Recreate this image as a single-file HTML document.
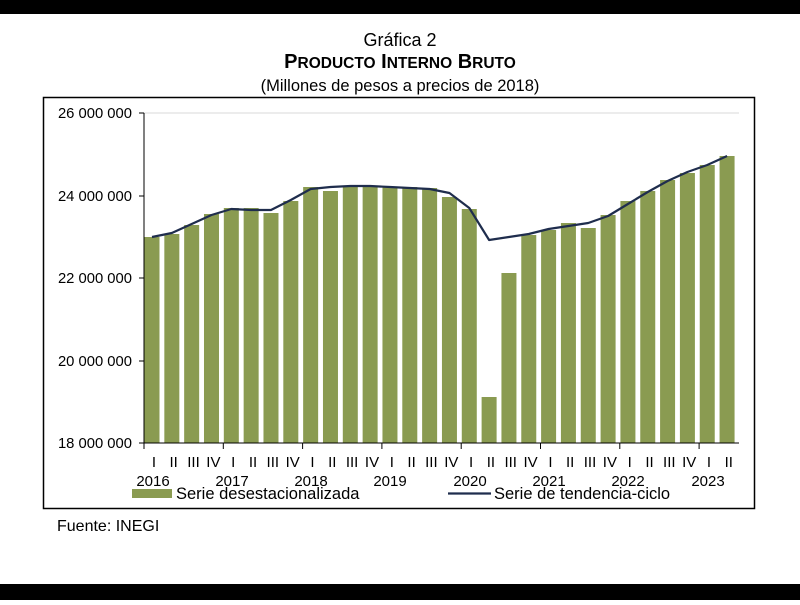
<!DOCTYPE html>
<html><head><meta charset="utf-8"><style>
html,body{margin:0;padding:0;background:#fff;}
body{width:800px;height:600px;position:relative;overflow:hidden;font-family:"Liberation Sans",Arial,sans-serif;}
</style></head><body>
<svg id="s" width="800" height="600" xmlns="http://www.w3.org/2000/svg" font-family="Liberation Sans, Arial, sans-serif">
<rect x="0" y="0" width="800" height="14" fill="#000"/>
<rect x="0" y="584" width="800" height="16" fill="#000"/>
<text x="400" y="46" font-size="18" text-anchor="middle">Gráfica 2</text>
<text x="400" y="68" font-size="20" font-weight="bold" text-anchor="middle">P<tspan font-size="15.5">RODUCTO</tspan> I<tspan font-size="15.5">NTERNO</tspan> B<tspan font-size="15.5">RUTO</tspan></text>
<text x="400" y="91" font-size="16.5" text-anchor="middle">(Millones de pesos a precios de 2018)</text>
<rect x="43.5" y="97.5" width="711" height="411" fill="none" stroke="#000" stroke-width="1.5"/>
<line x1="144" y1="113" x2="739" y2="113" stroke="#d9d9d9" stroke-width="1"/>
<g id="bars"></g>
<polyline id="ln" fill="none" stroke="#1f2d4d" stroke-width="2.2" stroke-linejoin="round"/>
<line x1="144" y1="113" x2="144" y2="443" stroke="#000" stroke-width="1"/>
<line x1="144" y1="443" x2="739" y2="443" stroke="#000" stroke-width="1"/>
<g stroke="#000" stroke-width="1">
<line x1="139" y1="113" x2="144" y2="113"/><line x1="139" y1="196" x2="144" y2="196"/>
<line x1="139" y1="278" x2="144" y2="278"/><line x1="139" y1="361" x2="144" y2="361"/>
<line x1="139" y1="443" x2="144" y2="443"/>
<line x1="144" y1="443" x2="144" y2="449"/><line x1="223.3" y1="443" x2="223.3" y2="449"/>
<line x1="302.6" y1="443" x2="302.6" y2="449"/><line x1="381.9" y1="443" x2="381.9" y2="449"/>
<line x1="461.2" y1="443" x2="461.2" y2="449"/><line x1="540.5" y1="443" x2="540.5" y2="449"/>
<line x1="619.8" y1="443" x2="619.8" y2="449"/><line x1="699.1" y1="443" x2="699.1" y2="449"/>
</g>
<g font-size="14.8" text-anchor="end">
<text x="132" y="118">26 000 000</text><text x="132" y="201">24 000 000</text>
<text x="132" y="283">22 000 000</text><text x="132" y="366">20 000 000</text>
<text x="132" y="448">18 000 000</text>
</g>
<g font-size="15" text-anchor="middle">
<text x="153.9" y="467">I</text><text x="173.7" y="467">II</text><text x="193.5" y="467">III</text><text x="213.4" y="467">IV</text>
<text x="233.2" y="467">I</text><text x="253" y="467">II</text><text x="272.8" y="467">III</text><text x="292.7" y="467">IV</text>
<text x="312.5" y="467">I</text><text x="332.3" y="467">II</text><text x="352.1" y="467">III</text><text x="372" y="467">IV</text>
<text x="391.8" y="467">I</text><text x="411.6" y="467">II</text><text x="431.4" y="467">III</text><text x="451.3" y="467">IV</text>
<text x="471.1" y="467">I</text><text x="490.9" y="467">II</text><text x="510.7" y="467">III</text><text x="530.6" y="467">IV</text>
<text x="550.4" y="467">I</text><text x="570.2" y="467">II</text><text x="590" y="467">III</text><text x="609.9" y="467">IV</text>
<text x="629.7" y="467">I</text><text x="649.5" y="467">II</text><text x="669.3" y="467">III</text><text x="689.2" y="467">IV</text>
<text x="709" y="467">I</text><text x="728.8" y="467">II</text>
<text x="153" y="486">2016</text><text x="232" y="486">2017</text><text x="311" y="486">2018</text>
<text x="390" y="486">2019</text><text x="470" y="486">2020</text><text x="549" y="486">2021</text>
<text x="628" y="486">2022</text><text x="708" y="486">2023</text>
</g>
<rect x="132" y="489" width="40" height="9" fill="#8a9b51"/>
<text x="176" y="499" font-size="16.5">Serie desestacionalizada</text>
<line x1="448" y1="493.5" x2="491" y2="493.5" stroke="#1f2d4d" stroke-width="2.2"/>
<text x="494" y="499" font-size="16.5">Serie de tendencia-ciclo</text>
<text x="57" y="531" font-size="16">Fuente: INEGI</text>
</svg>
<script>
var b=[237,234,225,214,208,208,213,201,187,191,186,186,187,187,188,197,209,397,273,235,230,223,228,215,201,191,180,173,165,156];
var l=[237,233,224,215,209,210,210,200,189,187,186,186,187,188,189,193,208,240,237,234,229,226,223,216,204,192,181,172,165,156];
var g=document.getElementById('bars'),ns='http://www.w3.org/2000/svg',pts=[];
for(var i=0;i<30;i++){var x=144.5+i*19.83;var r=document.createElementNS(ns,'rect');
r.setAttribute('x',x);r.setAttribute('y',b[i]);r.setAttribute('width',15);r.setAttribute('height',443-b[i]);r.setAttribute('fill','#8a9b51');g.appendChild(r);
pts.push((x+7.5)+','+l[i]);}
document.getElementById('ln').setAttribute('points',pts.join(' '));
</script>
</body></html>
